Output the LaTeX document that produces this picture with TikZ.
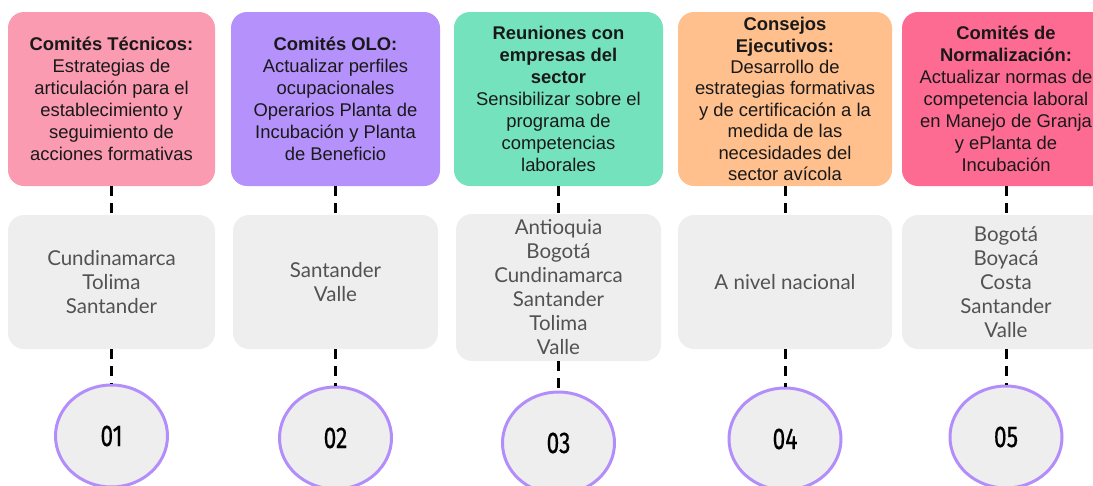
\documentclass[tikz,border=0pt]{standalone}
\usepackage{fontspec}
\setmainfont{Liberation Sans}
\newfontfamily\placefont{Lato}
\newfontfamily\numfont[FakeBold=0.6]{Fira Sans}
\usepackage{tikz}
\usetikzlibrary{shapes.geometric}

\definecolor{tecPink}{HTML}{FA9BB1}
\definecolor{oloPurple}{HTML}{B592FB}
\definecolor{reuGreen}{HTML}{74E2BC}
\definecolor{conOrange}{HTML}{FFC08D}
\definecolor{norPink}{HTML}{FE6B92}
\definecolor{boxGray}{HTML}{EEEEEE}
\definecolor{ringLila}{HTML}{B38EFA}

\tikzset{
    topbox/.style={rounded corners=16pt, minimum height=174pt, inner sep=0pt,
        align=center, text=black!90, font=\fontsize{18.4}{22}\selectfont},
    placebox/.style={fill=boxGray, rounded corners=16pt, inner sep=0pt,
        align=center, text=black!68, font=\placefont\fontsize{20.5}{24}\selectfont},
    numring/.style={ellipse, fill=boxGray, draw=ringLila, line width=3pt,
        minimum width=112pt, minimum height=102pt, font=\numfont\fontsize{30}{30}\selectfont},
    link/.style={black, line width=3pt, dash pattern=on 10pt off 7pt}
}
\newcommand{\num}[1]{\scalebox{0.76}[1]{#1}}

\begin{document}
\begin{tikzpicture}[x=1pt,y=-1pt]
        \useasboundingbox (0,0) rectangle (1093,485);
        \clip (0,0) rectangle (1093,485);
        % top line
        \node[topbox, fill=tecPink, minimum width=207pt] (t1) at (111.5,99)
            {\textbf{Comités Técnicos:}\\Estrategias de\\articulación para el\\establecimiento y\\seguimiento de\\acciones formativas};
        \node[topbox, fill=oloPurple, minimum width=209pt] (t2) at (335.5,99)
            {\textbf{Comités OLO:}\\Actualizar perfiles\\ocupacionales\\Operarios Planta de\\Incubación y Planta\\de Beneficio};
        \node[topbox, fill=reuGreen, minimum width=209pt] (t3) at (558.5,99)
            {\textbf{Reuniones con}\\\textbf{empresas del}\\\textbf{sector}\\Sensibilizar sobre el\\programa de\\competencias\\laborales};
        \node[topbox, fill=conOrange, minimum width=214pt, font=\fontsize{18.4}{21.4}\selectfont] (t4) at (785,99)
            {\textbf{Consejos}\\\textbf{Ejecutivos:}\\Desarrollo de\\estrategias formativas\\y de certificación a la\\medida de las\\necesidades del\\sector avícola};
        \node[topbox, fill=norPink, minimum width=208pt] (t5) at (1006,99)
            {\textbf{Comités de}\\\textbf{Normalización:}\\Actualizar normas de\\competencia laboral\\en Manejo de Granja\\y ePlanta de\\Incubación};

        % sec line
        \node[placebox, minimum width=207pt, minimum height=134pt] (g1) at (111.5,282)
            {Cundinamarca\\Tolima\\Santander};
        \node[placebox, minimum width=205pt, minimum height=134pt] (g2) at (335.5,282)
            {Santander\\Valle};
        \node[placebox, minimum width=205pt, minimum height=147pt] (g3) at (558.5,287.5)
            {Antioquia\\Bogotá\\Cundinamarca\\Santander\\Tolima\\Valle};
        \node[placebox, minimum width=214pt, minimum height=134pt] (g4) at (785,282)
            {A nivel nacional};
        \node[placebox, minimum width=208pt, minimum height=134pt] (g5) at (1006,282)
            {Bogotá\\Boyacá\\Costa\\Santander\\Valle};

        % thrird line
        \node[numring] (n1) at (111.5,436) {\num{01}};
        \node[numring] (n2) at (335.5,438) {\num{02}};
        \node[numring] (n3) at (558.5,443) {\num{03}};
        \node[numring] (n4) at (785,439) {\num{04}};
        \node[numring] (n5) at (1006,437) {\num{05}};

        % dashed links
        \foreach \i in {1,...,5}{
            \draw[link] (t\i.south) -- (g\i.north);
            \draw[link] (g\i.south) -- (n\i.north);
        }
    \end{tikzpicture}
\end{document}
